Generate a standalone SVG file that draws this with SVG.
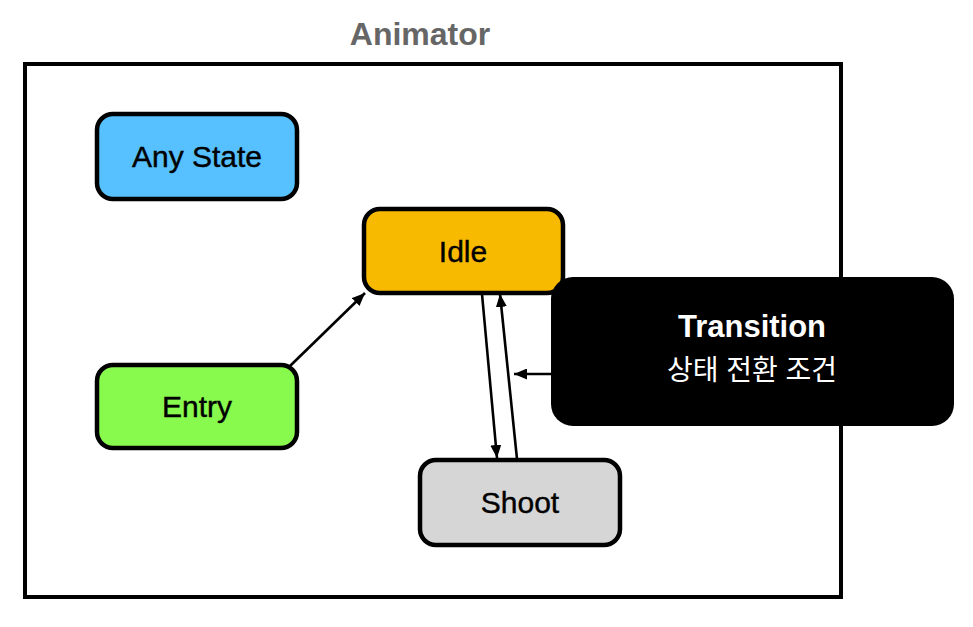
<svg xmlns="http://www.w3.org/2000/svg" width="973" height="627" viewBox="0 0 973 627">
<defs>
<marker id="arr" viewBox="0 0 13 11" refX="13" refY="5.5" markerWidth="13" markerHeight="11" markerUnits="userSpaceOnUse" orient="auto">
<path d="M0,0 L13,5.5 L0,11 Z" fill="#000"/>
</marker>
</defs>
<style>
.node{stroke:#000;stroke-width:4.5}
.lbl{font-family:"Liberation Sans",Arial,sans-serif;font-size:30px;fill:#000;text-anchor:middle;stroke:#000;stroke-width:0.4}
.conn{stroke:#000;stroke-width:2.6;fill:none;marker-end:url(#arr)}
</style>
<rect width="973" height="627" fill="#fff"/>
<g id="animator">
<rect x="25" y="64" width="816" height="533" fill="none" stroke="#000" stroke-width="4"/>
<text x="420" y="45" font-family="Liberation Sans,Arial,sans-serif" font-size="32" font-weight="bold" fill="#666" text-anchor="middle">Animator</text>
</g>
<g id="any-state">
<rect class="node" x="97" y="114" width="200" height="85" rx="16" fill="#56C1FE"/>
<text class="lbl" x="197" y="167">Any State</text>
</g>
<g id="idle">
<rect class="node" x="364" y="209" width="199" height="84" rx="16" fill="#F8BA00"/>
<text class="lbl" x="463" y="262">Idle</text>
</g>
<g id="entry">
<rect class="node" x="97" y="365" width="200" height="83" rx="16" fill="#88FA4E"/>
<text class="lbl" x="197" y="417">Entry</text>
</g>
<g id="shoot">
<rect class="node" x="420" y="460" width="200" height="85" rx="16" fill="#D6D6D6"/>
<text class="lbl" x="520" y="513">Shoot</text>
</g>
<g id="transition">
<rect x="551" y="277" width="403" height="149" rx="22" fill="#000"/>
<text x="752" y="337" font-family="Liberation Sans,Arial,sans-serif" font-size="31" font-weight="bold" fill="#fff" text-anchor="middle">Transition</text>
<text x="752" y="380" font-family="Liberation Sans,'Noto Sans CJK KR',sans-serif" font-size="28" fill="#fff" text-anchor="middle">상태 전환 조건</text>
</g>
<g id="connectors">
<line class="conn" x1="290" y1="366" x2="365" y2="293"/>
<line class="conn" x1="482" y1="294" x2="497" y2="458"/>
<line class="conn" x1="517" y1="459" x2="500" y2="294"/>
<line class="conn" x1="551" y1="374" x2="514" y2="374"/>
</g>
</svg>
